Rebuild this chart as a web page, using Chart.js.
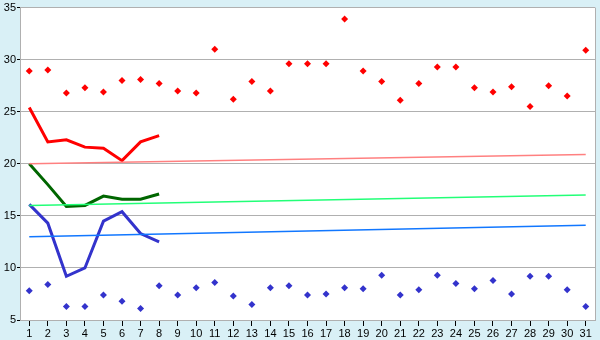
<!DOCTYPE html>
<html>
<head>
<meta charset="utf-8">
<script src="https://cdn.jsdelivr.net/npm/chart.js@4.4.1/dist/chart.umd.min.js"></script>
<style>
html,body{margin:0;padding:0;background:#d9f0f6;}
#wrap{width:600px;height:340px;}
</style>
</head>
<body>
<div id="wrap"><canvas id="c" width="600" height="340"></canvas></div>
<script>
const days = [1,2,3,4,5,6,7,8,9,10,11,12,13,14,15,16,17,18,19,20,21,22,23,24,25,26,27,28,29,30,31];
const maxPoints = [28.9,29.0,26.8,27.3,26.9,28.0,28.1,27.7,27.0,26.8,31.0,26.2,27.9,27.0,29.6,29.6,29.6,33.9,28.9,27.9,26.1,27.7,29.3,29.3,27.3,26.9,27.4,25.5,27.5,26.5,30.9];
const minPoints = [7.8,8.4,6.3,6.3,7.4,6.8,6.1,8.3,7.4,8.1,8.6,7.3,6.5,8.1,8.3,7.4,7.5,8.1,8.0,9.3,7.4,7.9,9.3,8.5,8.0,8.8,7.5,9.2,9.2,7.9,6.3];
const lineDays = [1,2,3,4,5,6,7,8];
const redLine = [25.4,22.1,22.3,21.6,21.5,20.3,22.1,22.7];
const greenLine = [20.0,18.0,15.9,16.0,16.9,16.6,16.6,17.1];
const blueLine = [16.1,14.3,9.2,10.0,14.5,15.4,13.3,12.5];
const trendDays = [1,31];
const redTrend = [20.0,20.9];
const greenTrend = [16.0,17.0];
const blueTrend = [13.0,14.1];
const yTicks = [5,10,15,20,25,30,35];

const pts = (xs, ys) => xs.map((x,i)=>({x:x,y:ys[i]}));

const bgPlugin = {
  id:'bg',
  beforeDraw(chart){
    const {ctx, chartArea:a} = chart;
    ctx.save();
    ctx.fillStyle='#d9f0f6';
    ctx.fillRect(0,0,chart.width,chart.height);
    ctx.fillStyle='#ffffff';
    ctx.fillRect(a.left,a.top,a.right-a.left,a.bottom-a.top);
    ctx.restore();
  },
  afterDraw(chart){
    const {ctx, chartArea:a} = chart;
    ctx.save();
    ctx.strokeStyle='#b0b0b0';
    ctx.lineWidth=1;
    ctx.beginPath();
    ctx.moveTo(Math.round(a.right)+0.5,a.top);
    ctx.lineTo(Math.round(a.right)+0.5,a.bottom);
    ctx.stroke();
    ctx.restore();
  }
};

Chart.defaults.font.family = "'Liberation Sans', Arial, sans-serif";
Chart.defaults.font.size = 11;
Chart.defaults.color = '#000000';

new Chart(document.getElementById('c'), {
  type:'scatter',
  data:{
    datasets:[
      {data:pts(trendDays,redTrend), showLine:true, borderColor:'#ff8080', borderWidth:1.5, pointRadius:0},
      {data:pts(trendDays,greenTrend), showLine:true, borderColor:'#22ff77', borderWidth:1.5, pointRadius:0},
      {data:pts(trendDays,blueTrend), showLine:true, borderColor:'#1177ff', borderWidth:1.5, pointRadius:0},
      {data:pts(lineDays,redLine), showLine:true, borderColor:'#ff0000', borderWidth:3, pointRadius:0},
      {data:pts(lineDays,greenLine), showLine:true, borderColor:'#006600', borderWidth:3, pointRadius:0},
      {data:pts(lineDays,blueLine), showLine:true, borderColor:'#3333cc', borderWidth:3, pointRadius:0},
      {data:pts(days,maxPoints), showLine:false, pointStyle:'rectRot', pointRadius:3.5, backgroundColor:'#ff0000', borderColor:'#ff0000', borderWidth:0},
      {data:pts(days,minPoints), showLine:false, pointStyle:'rectRot', pointRadius:3.5, backgroundColor:'#3333cc', borderColor:'#3333cc', borderWidth:0}
    ]
  },
  options:{
    responsive:false,
    animation:false,
    layout:{padding:{top:5,right:5,left:0,bottom:0}},
    plugins:{legend:{display:false},tooltip:{enabled:false}},
    scales:{
      x:{
        type:'linear', min:0.5, max:31.5,
        afterBuildTicks(s){ s.ticks = days.map(v=>({value:v})); },
        afterFit(s){ s.height = 20; },
        ticks:{autoSkip:false, maxRotation:0, padding:1, callback:v=>String(v)},
        grid:{drawOnChartArea:false, drawTicks:true, tickLength:6, tickColor:'#000000'},
        border:{color:'#b0b0b0', width:1}
      },
      y:{
        min:5, max:35,
        afterBuildTicks(s){ s.ticks = yTicks.map(v=>({value:v})); },
        afterFit(s){ s.width = 20; },
        ticks:{padding:1, callback:v=>String(v)},
        grid:{color:'#b0b0b0', drawTicks:true, tickLength:3, tickColor:'#000000'},
        border:{color:'#b0b0b0', width:1}
      }
    }
  },
  plugins:[bgPlugin]
});
</script>
</body>
</html>
